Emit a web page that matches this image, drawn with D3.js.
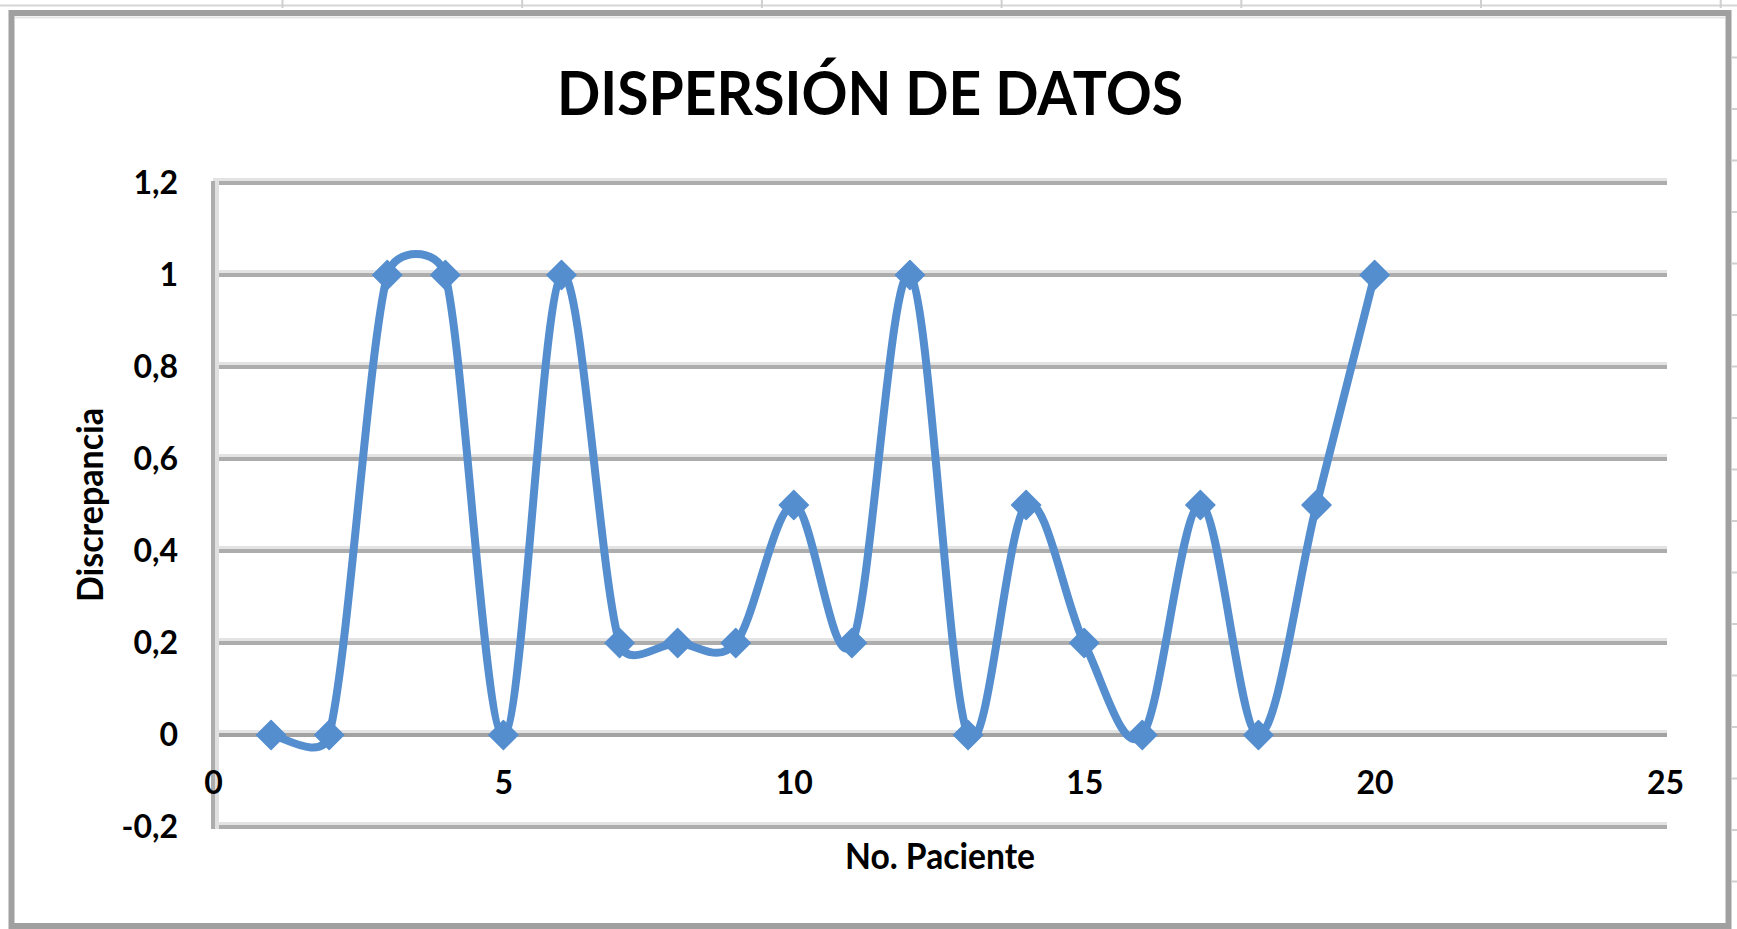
<!DOCTYPE html>
<html>
<head>
<meta charset="utf-8">
<script src="https://cdn.jsdelivr.net/npm/d3@7"></script>
<style>
html,body{margin:0;padding:0;background:#fff;overflow:hidden}
text{font-family:Lato,"Open Sans",sans-serif;font-weight:700;fill:#000}
</style>
</head>
<body>
<svg id="chart" width="1737" height="929"></svg>
<script>
// ---- data ----
const patients = [1,2,3,4,5,6,7,8,9,10,11,12,13,14,15,16,17,18,19,20];
const discrepancia = [0,0,1,1,0,1,0.2,0.2,0.2,0.5,0.2,1,0,0.5,0.2,0,0.5,0,0.5,1];
const xTickValues = [0,5,10,15,20,25];
const xTickLabels = ["0","5","10","15","20","25"];
const yTickValues = [-0.2,0,0.2,0.4,0.6,0.8,1,1.2];
const yTickLabels = ["-0,2","0","0,2","0,4","0,6","0,8","1","1,2"];
const chartTitle = "DISPERSIÓN DE DATOS";
const xAxisTitle = "No. Paciente";
const yAxisTitle = "Discrepancia";

// ---- layout ----
const W = 1737, H = 929;
const plot = {left: 213, right: 1665, top: 183, bottom: 827};
const svg = d3.select("#chart");

const x = d3.scaleLinear().domain([0, 25]).range([plot.left, plot.right]);
const y = d3.scaleLinear().domain([-0.2, 1.2]).range([plot.bottom, plot.top]);

// Excel-style smoothed line: Bezier segments, handles = (P2-P0)/6 limited to half the segment
function ExcelSmooth(context){ this._context = context; }
ExcelSmooth.prototype = {
  areaStart(){}, areaEnd(){},
  lineStart(){ this._pts = []; },
  point(px, py){ this._pts.push([+px, +py]); },
  lineEnd(){
    const p = this._pts, c = this._context, n = p.length;
    if (!n) return;
    c.moveTo(p[0][0], p[0][1]);
    const dist = (a,b) => Math.hypot(b[0]-a[0], b[1]-a[1]);
    for (let i = 0; i < n-1; i++) {
      const P0 = p[i-1] || p[i], P1 = p[i], P2 = p[i+1], P3 = p[i+2] || p[i+1];
      const d12 = dist(P1,P2), d02 = dist(P0,P2), d13 = dist(P1,P3);
      const f = (d02/6 < d12/2) ? 1/6 : (d02 ? d12/(2*d02) : 0);
      const g = (d13/6 < d12/2) ? 1/6 : (d13 ? d12/(2*d13) : 0);
      c.bezierCurveTo(
        P1[0] + (P2[0]-P0[0])*f, P1[1] + (P2[1]-P0[1])*f,
        P2[0] - (P3[0]-P1[0])*g, P2[1] - (P3[1]-P1[1])*g,
        P2[0], P2[1]);
    }
  }
};
const curveExcel = ctx => new ExcelSmooth(ctx);

// spreadsheet remnants around the chart object
svg.append("rect").attr("x",0).attr("y",0).attr("width",W).attr("height",H).attr("fill","#fff");
svg.append("line").attr("x1",0).attr("x2",W).attr("y1",5.5).attr("y2",5.5)
  .attr("stroke","#d6d6d6").attr("stroke-width",2);
const colSeps = d3.range(7).map(i => 282.5 + i*239.7);
svg.selectAll("line.colsep").data(colSeps).join("line").attr("class","colsep")
  .attr("x1",d=>d).attr("x2",d=>d).attr("y1",0).attr("y2",8)
  .attr("stroke","#cfcfcf").attr("stroke-width",2);
const rowSeps = d3.range(17).map(i => 57.5 + i*51.5);
svg.selectAll("line.rowsep").data(rowSeps).join("line").attr("class","rowsep")
  .attr("x1",1732).attr("x2",W).attr("y1",d=>d).attr("y2",d=>d)
  .attr("stroke","#cfcfcf").attr("stroke-width",2);

// chart border
svg.append("rect").attr("x",11.5).attr("y",13).attr("width",1717).attr("height",913)
  .attr("fill","#fff").attr("stroke","#a0a0a0").attr("stroke-width",6);
svg.append("line").attr("x1",15).attr("x2",1725).attr("y1",17.5).attr("y2",17.5)
  .attr("stroke","#e6e6e6").attr("stroke-width",2);

// gridlines (light shadow + darker line)
const grid = svg.append("g");
grid.selectAll("line.light").data(yTickValues).join("line").attr("class","light")
  .attr("x1",plot.left).attr("x2",plot.right+2)
  .attr("y1",d=>y(d)-3.5).attr("y2",d=>y(d)-3.5)
  .attr("stroke","#e3e3e3").attr("stroke-width",3);
grid.selectAll("line.dark").data(yTickValues).join("line").attr("class","dark")
  .attr("x1",plot.left).attr("x2",plot.right+2)
  .attr("y1",d=>y(d)).attr("y2",d=>y(d))
  .attr("stroke",d=>d===0?"#a2a2a2":"#adadad").attr("stroke-width",4);

// vertical axis line
svg.append("line").attr("x1",plot.left+4).attr("x2",plot.left+4)
  .attr("y1",y(1.2)-2).attr("y2",y(-0.2)+2).attr("stroke","#e0e0e0").attr("stroke-width",4);
svg.append("line").attr("x1",plot.left).attr("x2",plot.left)
  .attr("y1",y(1.2)-2).attr("y2",y(-0.2)+2).attr("stroke","#adadad").attr("stroke-width",4);

// axes (labels)
const yAxis = d3.axisLeft(y).tickValues(yTickValues)
  .tickFormat((d,i)=>yTickLabels[i]).tickSize(0).tickPadding(35);
const gy = svg.append("g").attr("transform",`translate(${plot.left},0)`).call(yAxis);
gy.select(".domain").remove();
gy.selectAll("text").style("font-size","32px").style("font-family","Lato").style("font-weight","700").attr("fill","#000");

const xAxis = d3.axisBottom(x).tickValues(xTickValues)
  .tickFormat((d,i)=>xTickLabels[i]).tickSize(0).tickPadding(36);
const gx = svg.append("g").attr("transform",`translate(0,${y(0)})`).call(xAxis);
gx.select(".domain").remove();
gx.selectAll("text").style("font-size","32px").style("font-family","Lato").style("font-weight","700").attr("fill","#000");

// series
const pts = patients.map((p,i)=>[p, discrepancia[i]]);
const color = "#558ecf";
const line = d3.line().x(d=>x(d[0])).y(d=>y(d[1])).curve(curveExcel);
svg.append("path").datum(pts).attr("d",line)
  .attr("fill","none").attr("stroke",color).attr("stroke-width",8)
  .attr("stroke-linejoin","round").attr("stroke-linecap","round");
const h = 14.5;
svg.selectAll("path.mk").data(pts).join("path").attr("class","mk")
  .attr("d",`M0,${-h}L${h},0L0,${h}L${-h},0Z`)
  .attr("transform",d=>`translate(${x(d[0])},${y(d[1])})`)
  .attr("fill",color).attr("stroke",color).attr("stroke-width",1.5).attr("stroke-linejoin","round");

// titles
svg.append("text").attr("x",870).attr("y",115).attr("text-anchor","middle")
  .style("font-size","61px").attr("textLength",626).attr("lengthAdjust","spacingAndGlyphs")
  .text(chartTitle);
svg.append("text").attr("x",940).attr("y",869).attr("text-anchor","middle")
  .style("font-size","36px").attr("textLength",190).attr("lengthAdjust","spacingAndGlyphs")
  .text(xAxisTitle);
svg.append("text").attr("transform","translate(103,505) rotate(-90)").attr("text-anchor","middle")
  .style("font-size","36px").attr("textLength",194).attr("lengthAdjust","spacingAndGlyphs")
  .text(yAxisTitle);
</script>
</body>
</html>
